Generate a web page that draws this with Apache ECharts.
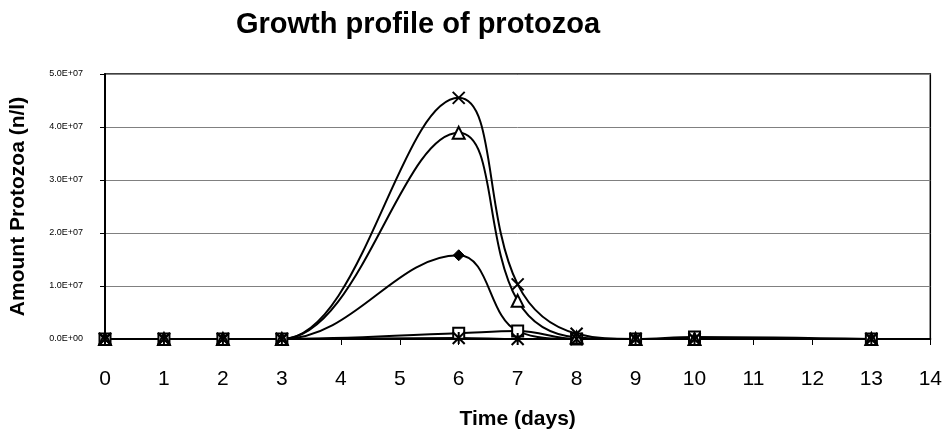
<!DOCTYPE html>
<html>
<head>
<meta charset="utf-8">
<script src="https://cdn.jsdelivr.net/npm/echarts@6/dist/echarts.min.js"></script>
<style>
  html, body { margin: 0; padding: 0; background: #fff; }
  #main { width: 945px; height: 435px; }
</style>
</head>
<body>
<div id="main"></div>
<script>
// days sampled
const days = [0, 1, 2, 3, 6, 7, 8, 9, 10, 13];
// amount protozoa (n/l), one array per marker series
const diamondVals  = [0, 0, 0, 0, 1.58e7, 1.5e6, 0, 0, 0, 0];
const squareVals   = [0, 0, 0, 0, 1.1e6, 1.5e6, 0, 0, 4e5, 0];
const triangleVals = [0, 0, 0, 0, 3.89e7, 7.2e6, 3e5, 0, 0, 0];
const crossVals    = [0, 0, 0, 0, 4.55e7, 1.03e7, 1.0e6, 0, 0, 0];
const starVals     = [0, 0, 0, 0, 2e5, 0, 0, 0, 0, 0];

function pairs(vals) {
  return days.map((d, i) => [d, vals[i]]);
}

// 5.0E+07 style labels like the spreadsheet
function sci(v) {
  if (v === 0) return '0.0E+00';
  let e = Math.floor(Math.log10(Math.abs(v)));
  let m = v / Math.pow(10, e);
  return m.toFixed(1) + 'E' + (e < 0 ? '-' : '+') + String(Math.abs(e)).padStart(2, '0');
}

let myChart = echarts.init(document.getElementById('main'));

function line(name, vals, symbol, size, itemStyle) {
  return {
    name: name,
    type: 'line',
    data: pairs(vals),
    smooth: 0.4,
    symbol: symbol,
    symbolSize: size,
    showSymbol: true,
    lineStyle: { color: '#000', width: 2 },
    itemStyle: itemStyle,
    z: 3
  };
}

const font = 'Liberation Sans, Arial';

let option = {
  animation: false,
  backgroundColor: '#fff',
  title: {
    text: 'Growth profile of protozoa',
    left: 231,
    top: 5,
    textStyle: { fontFamily: font, fontSize: 29, fontWeight: 'bold', color: '#000' }
  },
  grid: {
    left: 105,
    right: 13,
    top: 74,
    bottom: 96,
    show: true,
    borderColor: '#000',
    borderWidth: 1.5,
    backgroundColor: '#fff'
  },
  xAxis: {
    type: 'value',
    min: 0,
    max: 14,
    interval: 1,
    name: 'Time (days)',
    nameLocation: 'middle',
    nameGap: 70,
    nameTextStyle: { fontFamily: font, fontSize: 21, fontWeight: 'bold', color: '#000' },
    axisLine: { onZero: true, lineStyle: { color: '#000', width: 2 } },
    axisTick: { show: true, length: 6, lineStyle: { color: '#000' } },
    axisLabel: { fontFamily: font, fontSize: 21, color: '#000', margin: 30 },
    splitLine: { show: false }
  },
  yAxis: {
    type: 'value',
    min: 0,
    max: 5e7,
    interval: 1e7,
    name: 'Amount Protozoa (n/l)',
    nameLocation: 'middle',
    nameGap: 76,
    nameTextStyle: { fontFamily: font, fontSize: 21, fontWeight: 'bold', color: '#000' },
    axisLine: { show: true, lineStyle: { color: '#000', width: 2 } },
    axisTick: { show: true, length: 5, lineStyle: { color: '#000' } },
    axisLabel: { fontFamily: font, fontSize: 9, color: '#000', margin: 22, formatter: sci },
    splitLine: { show: true, lineStyle: { color: '#808080', width: 1 } }
  },
  series: [
    line('diamond', diamondVals, 'diamond', 11, { color: '#000', borderColor: '#000' }),
    line('square', squareVals, 'rect', 11, { color: '#fff', borderColor: '#000', borderWidth: 2 }),
    line('triangle', triangleVals, 'triangle', 12, { color: '#fff', borderColor: '#000', borderWidth: 2 }),
    line('cross', crossVals, 'path://M0,0L10,10M10,0L0,10', 12, { color: '#000', borderColor: '#000', borderWidth: 2 }),
    line('star', starVals, 'path://M0,0L10,10M10,0L0,10M5,0L5,10', 12, { color: '#000', borderColor: '#000', borderWidth: 2 })
  ]
};

myChart.setOption(option);
</script>
</body>
</html>
